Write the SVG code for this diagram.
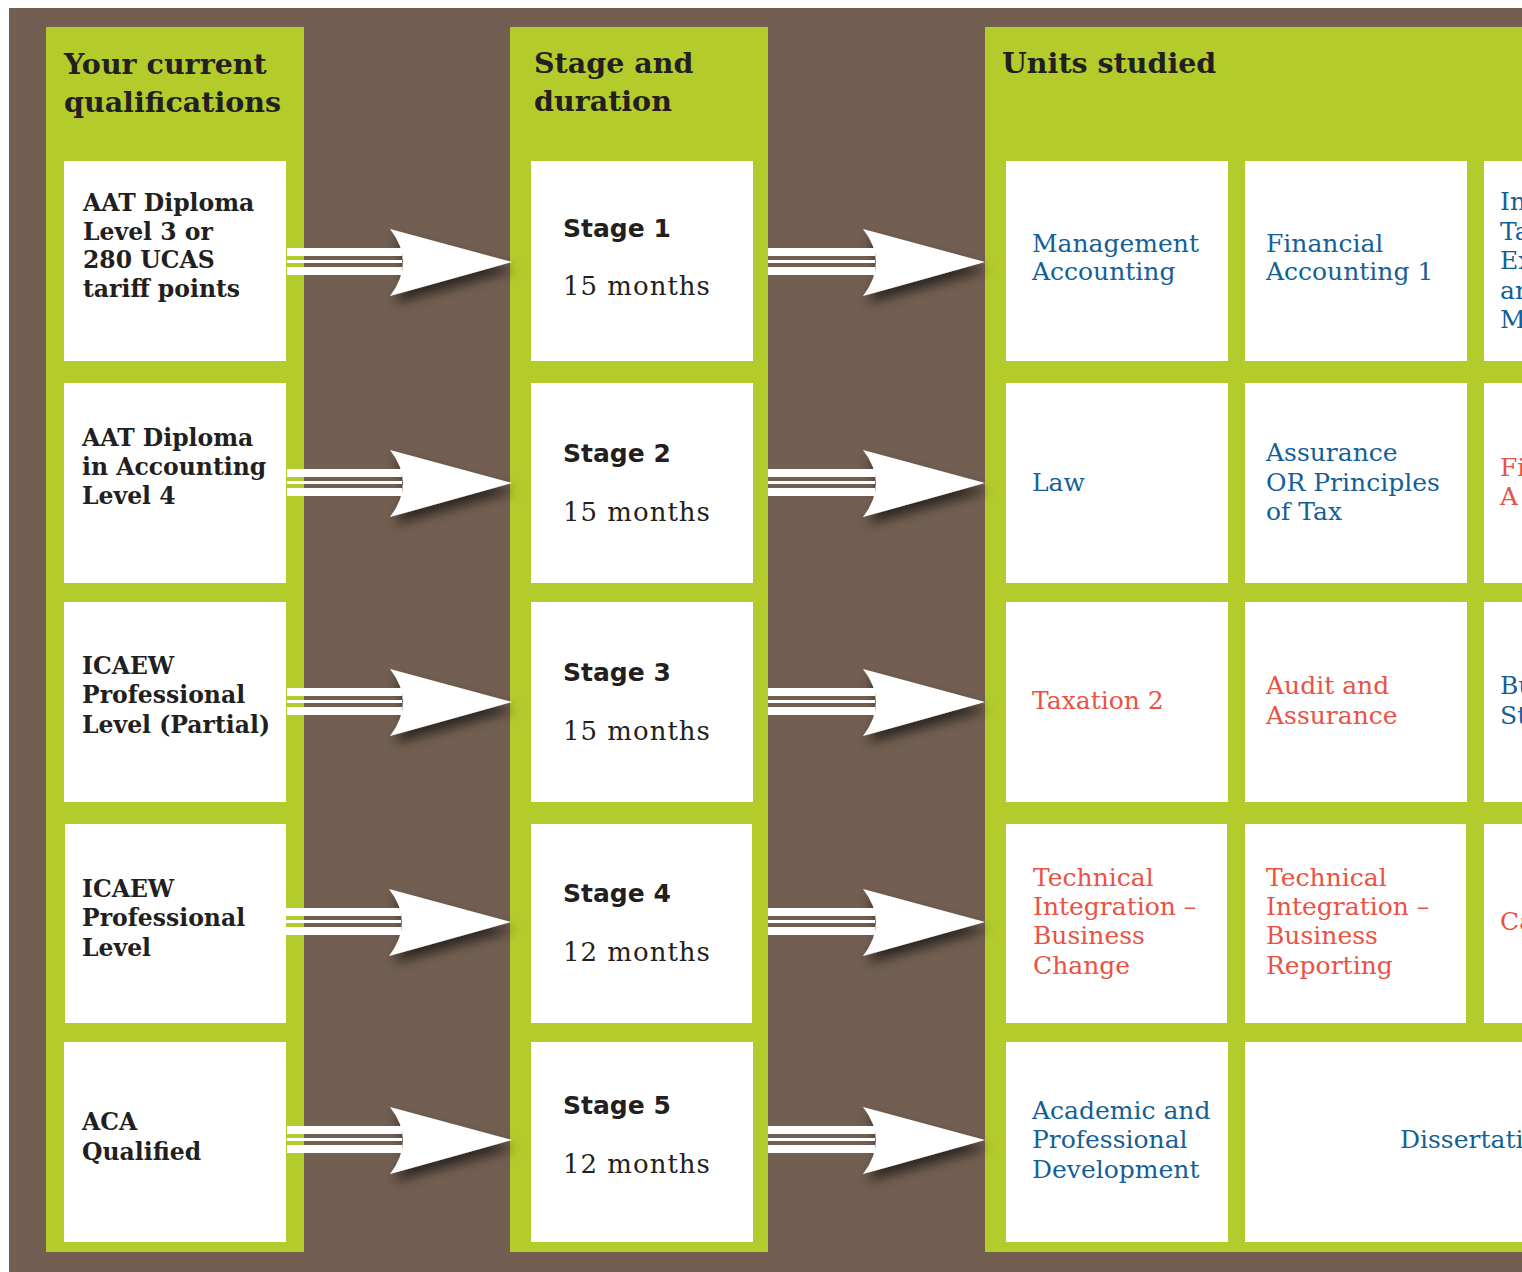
<svg xmlns="http://www.w3.org/2000/svg" width="1522" height="1272" viewBox="0 0 1522 1272">
<style>
.bg{fill:#725f51}
.panel{fill:#b4cb2c}
.box{fill:#ffffff}
.hdr{font-family:"DejaVu Serif",serif;font-weight:bold;font-size:28.5px;fill:#231f20}
.q{font-family:"DejaVu Serif",serif;font-weight:bold;font-size:23.5px;fill:#231f20}
.st{font-family:"DejaVu Sans",sans-serif;font-weight:bold;font-size:25px;fill:#231f20}
.dur{font-family:"DejaVu Serif",serif;font-size:26px;letter-spacing:1px;fill:#231f20}
.u{font-family:"DejaVu Serif",serif;font-size:25px}
.blue{fill:#155f97}
.red{fill:#ea5244}
.arrow{fill:#ffffff}
</style>
<defs>
<filter id="sh" x="-30%" y="-40%" width="170%" height="190%">
<feDropShadow dx="3" dy="8" stdDeviation="6" flood-color="#000000" flood-opacity="0.6"/>
</filter>
<g id="arrow1">
<path d="M390,-33 L512,0 L390,34 Q416,0 390,-33 Z" filter="url(#sh)"/>
<rect x="287" y="-14" width="115" height="8"/>
<rect x="287" y="-2" width="115" height="3"/>
<rect x="287" y="5" width="115" height="8"/>
</g>
<g id="arrow2">
<path d="M863,-33 L985,0 L863,34 Q889,0 863,-33 Z" filter="url(#sh)"/>
<rect x="768" y="-14" width="107" height="8"/>
<rect x="768" y="-2" width="107" height="3"/>
<rect x="768" y="5" width="107" height="8"/>
</g>
</defs>
<rect x="0" y="0" width="1522" height="1272" fill="#ffffff"/>
<rect class="bg" x="9" y="8" width="1513" height="1264"/>
<g id="col1">
<rect class="panel" x="46" y="27" width="258" height="1225"/>
<text class="hdr" x="64" y="74">Your current</text>
<text class="hdr" x="64" y="112">qualifications</text>
</g>
<g id="col2">
<rect class="panel" x="510" y="27" width="258" height="1225"/>
<text class="hdr" x="534" y="73">Stage and</text>
<text class="hdr" x="534" y="111">duration</text>
</g>
<g id="col3">
<rect class="panel" x="985" y="27" width="540" height="1225"/>
<text class="hdr" x="1002" y="73">Units studied</text>
</g>
<g id="q1"><rect class="box" x="64" y="161" width="222" height="200"/>
<text class="q" x="83" y="211">AAT Diploma</text><text class="q" x="83" y="240">Level 3 or</text><text class="q" x="83" y="268">280 UCAS</text><text class="q" x="83" y="297">tariff points</text></g>
<g id="q2"><rect class="box" x="64" y="383" width="222" height="200"/>
<text class="q" x="82" y="446">AAT Diploma</text><text class="q" x="82" y="475">in Accounting</text><text class="q" x="82" y="504">Level 4</text></g>
<g id="q3"><rect class="box" x="64" y="602" width="222" height="200"/>
<text class="q" x="82" y="674">ICAEW</text><text class="q" x="82" y="703">Professional</text><text class="q" x="82" y="733">Level (Partial)</text></g>
<g id="q4"><rect class="box" x="65" y="824" width="221" height="199"/>
<text class="q" x="82" y="897">ICAEW</text><text class="q" x="82" y="926">Professional</text><text class="q" x="82" y="956">Level</text></g>
<g id="q5"><rect class="box" x="64" y="1042" width="222" height="200"/>
<text class="q" x="82" y="1130">ACA</text><text class="q" x="82" y="1160">Qualified</text></g>
<g id="s1"><rect class="box" x="531" y="161" width="222" height="200"/>
<text class="st" x="563" y="237">Stage 1</text><text class="dur" x="563" y="295">15 months</text></g>
<g id="s2"><rect class="box" x="531" y="383" width="222" height="200"/>
<text class="st" x="563" y="462">Stage 2</text><text class="dur" x="563" y="521">15 months</text></g>
<g id="s3"><rect class="box" x="531" y="602" width="222" height="200"/>
<text class="st" x="563" y="681">Stage 3</text><text class="dur" x="563" y="740">15 months</text></g>
<g id="s4"><rect class="box" x="531" y="824" width="221" height="199"/>
<text class="st" x="563" y="902">Stage 4</text><text class="dur" x="563" y="961">12 months</text></g>
<g id="s5"><rect class="box" x="531" y="1042" width="222" height="200"/>
<text class="st" x="563" y="1114">Stage 5</text><text class="dur" x="563" y="1173">12 months</text></g>
<g id="u11"><rect class="box" x="1006" y="161" width="222" height="200"/>
<text class="u blue" x="1032" y="252">Management</text><text class="u blue" x="1032" y="280">Accounting</text></g>
<g id="u12"><rect class="box" x="1245" y="161" width="222" height="200"/>
<text class="u blue" x="1266" y="252">Financial</text><text class="u blue" x="1266" y="280">Accounting 1</text></g>
<g id="u13"><rect class="box" x="1484" y="161" width="60" height="200"/>
<text class="u blue" x="1500" y="210">In</text><text class="u blue" x="1500" y="240">Ta</text><text class="u blue" x="1500" y="269">Ex</text><text class="u blue" x="1500" y="299">an</text><text class="u blue" x="1500" y="328">M</text></g>
<g id="u21"><rect class="box" x="1006" y="383" width="222" height="200"/>
<text class="u blue" x="1032" y="491">Law</text></g>
<g id="u22"><rect class="box" x="1245" y="383" width="222" height="200"/>
<text class="u blue" x="1266" y="461">Assurance</text><text class="u blue" x="1266" y="491">OR Principles</text><text class="u blue" x="1266" y="520">of Tax</text></g>
<g id="u23"><rect class="box" x="1484" y="383" width="60" height="200"/>
<text class="u red" x="1500" y="476">Fi</text><text class="u red" x="1500" y="505">A</text></g>
<g id="u31"><rect class="box" x="1006" y="602" width="222" height="200"/>
<text class="u red" x="1032" y="709">Taxation 2</text></g>
<g id="u32"><rect class="box" x="1245" y="602" width="222" height="200"/>
<text class="u red" x="1266" y="694">Audit and</text><text class="u red" x="1266" y="724">Assurance</text></g>
<g id="u33"><rect class="box" x="1484" y="602" width="60" height="200"/>
<text class="u blue" x="1500" y="694">Bu</text><text class="u blue" x="1500" y="724">St</text></g>
<g id="u41"><rect class="box" x="1006" y="824" width="221" height="199"/>
<text class="u red" x="1033" y="886">Technical</text><text class="u red" x="1033" y="915">Integration –</text><text class="u red" x="1033" y="944">Business</text><text class="u red" x="1033" y="974">Change</text></g>
<g id="u42"><rect class="box" x="1245" y="824" width="221" height="199"/>
<text class="u red" x="1266" y="886">Technical</text><text class="u red" x="1266" y="915">Integration –</text><text class="u red" x="1266" y="944">Business</text><text class="u red" x="1266" y="974">Reporting</text></g>
<g id="u43"><rect class="box" x="1484" y="824" width="60" height="199"/>
<text class="u red" x="1500" y="930">Ca</text></g>
<g id="u51"><rect class="box" x="1006" y="1042" width="222" height="200"/>
<text class="u blue" x="1032" y="1119">Academic and</text><text class="u blue" x="1032" y="1148">Professional</text><text class="u blue" x="1032" y="1178">Development</text></g>
<g id="u52"><rect class="box" x="1245" y="1042" width="300" height="200"/>
<text class="u blue" x="1400" y="1148">Dissertation</text></g>
<g id="connectors" class="arrow">
<use href="#arrow1" transform="translate(0,262)"/>
<use href="#arrow1" transform="translate(0,483)"/>
<use href="#arrow1" transform="translate(0,702)"/>
<use href="#arrow1" transform="translate(-1,922)"/>
<use href="#arrow1" transform="translate(0,1140)"/>
<use href="#arrow2" transform="translate(0,262)"/>
<use href="#arrow2" transform="translate(0,483)"/>
<use href="#arrow2" transform="translate(0,702)"/>
<use href="#arrow2" transform="translate(0,922)"/>
<use href="#arrow2" transform="translate(0,1140)"/>
</g>
</svg>
